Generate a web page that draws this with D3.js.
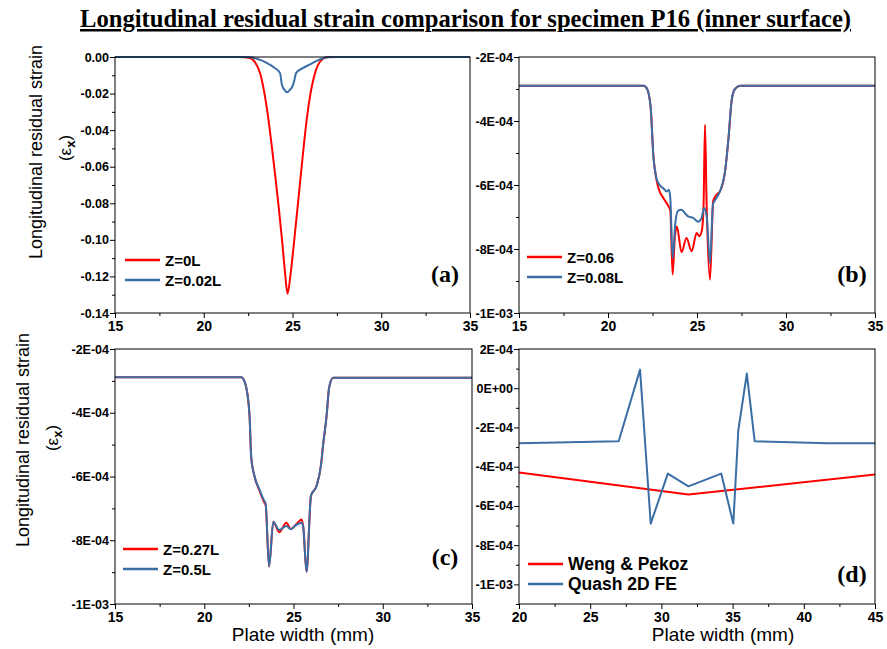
<!doctype html>
<html>
<head>
<script src="https://d3js.org/d3.v7.min.js"></script>
<style>
body { margin: 0; background: #fff; }
.tick text { font-family: "Liberation Sans", Arial, sans-serif; font-weight: bold; fill: #000; }
</style>
</head>
<body>
<svg width="887" height="649"></svg>
<script>
// ---- data ----
// panel (a)
var aZ0L = [[15,0],[22.0,0],[22.6,-0.0005],[22.9,-0.003],[23.17,-0.0088],[23.54,-0.027],[23.79,-0.0453],
  [24.01,-0.0635],[24.22,-0.0818],[24.41,-0.100],[24.58,-0.118],[24.72,-0.1295],[24.9,-0.118],[25.1,-0.100],
  [25.29,-0.0818],[25.48,-0.0635],[25.67,-0.0453],[25.9,-0.027],[26.27,-0.0088],[26.6,-0.002],[27.0,0],[35,0]];
var aZ002L = [[15,0],[22.5,0],[23.0,-0.001],[23.5,-0.003],[24.0,-0.006],[24.3,-0.0088],[24.4,-0.015],
  [24.55,-0.018],[24.7,-0.0193],[24.85,-0.018],[25.0,-0.016],[25.1,-0.013],[25.2,-0.0088],[25.5,-0.0065],
  [26.0,-0.004],[26.5,-0.0015],[27.0,-0.0002],[27.5,0],[35,0]];
// panel (b)
var bZ006 = [[15,-2.9e-4],[22.0,-2.9e-4],[22.2,-3.0e-4],[22.4,-3.6e-4],[22.55,-5.1e-4],[22.73,-5.85e-4],
  [22.9,-6.2e-4],[23.1,-6.4e-4],[23.38,-6.65e-4],[23.5,-6.8e-4],[23.63,-8.8e-4],[23.76,-7.6e-4],[23.87,-7.3e-4],
  [24.13,-8.1e-4],[24.41,-7.66e-4],[24.7,-8.07e-4],[24.98,-7.5e-4],[25.13,-7.6e-4],[25.28,-7.4e-4],[25.37,-6.6e-4],
  [25.45,-4.12e-4],[25.54,-6.6e-4],[25.73,-8.96e-4],[25.91,-6.5e-4],[26.1,-6.3e-4],[26.29,-6.2e-4],[26.57,-5.6e-4],
  [26.76,-4.6e-4],[26.95,-3.35e-4],[27.13,-3.0e-4],[27.42,-2.9e-4],[35,-2.9e-4]];
var bZ008L = [[15,-2.9e-4],[22.0,-2.9e-4],[22.2,-3.0e-4],[22.4,-3.6e-4],[22.55,-5.1e-4],[22.73,-5.8e-4],
  [22.9,-6.0e-4],[23.1,-6.1e-4],[23.3,-6.2e-4],[23.42,-6.15e-4],[23.5,-6.4e-4],[23.63,-8.3e-4],[23.78,-7.2e-4],
  [23.94,-6.8e-4],[24.13,-6.77e-4],[24.32,-6.88e-4],[24.5,-6.98e-4],[24.79,-7.03e-4],[25.07,-7.15e-4],
  [25.26,-7.03e-4],[25.4,-6.72e-4],[25.55,-7.0e-4],[25.73,-8.44e-4],[25.9,-6.6e-4],[26.1,-6.4e-4],[26.29,-6.2e-4],
  [26.57,-5.6e-4],[26.76,-4.6e-4],[26.95,-3.35e-4],[27.13,-3.0e-4],[27.42,-2.9e-4],[35,-2.9e-4]];
// panel (c)
var cZ027L = [[15,-2.89e-4],[22.07,-2.89e-4],[22.2,-2.95e-4],[22.35,-3.2e-4],[22.54,-4.12e-4],[22.63,-5.38e-4],
  [22.82,-6.0e-4],[23.1,-6.45e-4],[23.33,-6.78e-4],[23.44,-6.9e-4],[23.63,-8.82e-4],[23.87,-7.42e-4],[24.2,-7.75e-4],
  [24.6,-7.45e-4],[24.85,-7.65e-4],[25.15,-7.5e-4],[25.46,-7.35e-4],[25.55,-7.6e-4],[25.73,-8.99e-4],
  [25.98,-6.6e-4],[26.29,-6.3e-4],[26.55,-5.6e-4],[26.66,-5.0e-4],[26.85,-4.12e-4],[27.0,-3.2e-4],
  [27.22,-2.9e-4],[35,-2.9e-4]];
var cZ05L = [[15,-2.89e-4],[22.07,-2.89e-4],[22.2,-2.95e-4],[22.35,-3.2e-4],[22.54,-4.12e-4],[22.63,-5.38e-4],
  [22.82,-6.0e-4],[23.1,-6.42e-4],[23.33,-6.73e-4],[23.44,-6.85e-4],[23.63,-8.82e-4],[23.87,-7.42e-4],[24.2,-7.68e-4],
  [24.6,-7.55e-4],[24.85,-7.65e-4],[25.15,-7.52e-4],[25.46,-7.45e-4],[25.55,-7.6e-4],[25.73,-8.99e-4],
  [25.98,-6.6e-4],[26.29,-6.3e-4],[26.55,-5.6e-4],[26.66,-5.0e-4],[26.85,-4.12e-4],[27.0,-3.2e-4],
  [27.22,-2.9e-4],[35,-2.9e-4]];
// panel (d)
var dWeng = [[20,-4.3e-4],[31.9,-5.42e-4],[45,-4.4e-4]];
var dQuash = [[20,-2.8e-4],[27.0,-2.7e-4],[28.5,0.95e-4],[29.25,-6.9e-4],[30.45,-4.35e-4],[31.9,-5.0e-4],
  [34.2,-4.35e-4],[35.05,-6.9e-4],[35.4,-2.15e-4],[36.0,0.75e-4],[36.55,-2.7e-4],[41.7,-2.8e-4],[45,-2.8e-4]];

// ticks
var xTicks1 = [15, 20, 25, 30, 35];
var xTicks2 = [20, 25, 30, 35, 40, 45];
var yTicksA = [0, -0.02, -0.04, -0.06, -0.08, -0.10, -0.12, -0.14];
var yLabelsA = ["0.00", "-0.02", "-0.04", "-0.06", "-0.08", "-0.10", "-0.12", "-0.14"];
var yTicksBC = [-2e-4, -4e-4, -6e-4, -8e-4, -1e-3];
var yLabelsBC = ["-2E-04", "-4E-04", "-6E-04", "-8E-04", "-1E-03"];
var yTicksD = [2e-4, 0, -2e-4, -4e-4, -6e-4, -8e-4, -1e-3];
var yLabelsD = ["2E-04", "0E+00", "-2E-04", "-4E-04", "-6E-04", "-8E-04", "-1E-03"];

var RED = "#ff0000", BLUE = "#3a6ea5";

var panels = [
  {box: [115, 57, 470, 313], xd: [15, 35], yd: [-0.14, 0], xt: xTicks1, yt: yTicksA, yl: yLabelsA,
   series: [[aZ0L, RED, "Z=0L"], [aZ002L, BLUE, "Z=0.02L"]], smooth: true, tag: "(a)",
   leg: [125, 260], tagPos: [445, 282], legFont: 15},
  {box: [519, 57, 875, 313], xd: [15, 35], yd: [-1e-3, -2e-4], xt: xTicks1, yt: yTicksBC, yl: yLabelsBC,
   series: [[bZ006, RED, "Z=0.06"], [bZ008L, BLUE, "Z=0.08L"]], smooth: true, tag: "(b)",
   leg: [527, 257], tagPos: [852, 282], legFont: 15},
  {box: [115, 349, 472, 604], xd: [15, 35], yd: [-1e-3, -2e-4], xt: xTicks1, yt: yTicksBC, yl: yLabelsBC,
   series: [[cZ027L, RED, "Z=0.27L"], [cZ05L, BLUE, "Z=0.5L"]], smooth: true, tag: "(c)",
   leg: [123, 549], tagPos: [445, 565], legFont: 15},
  {box: [519, 349, 875, 604], xd: [20, 45], yd: [-1.1e-3, 2e-4], xt: xTicks2, yt: yTicksD, yl: yLabelsD,
   series: [[dWeng, RED, "Weng & Pekoz"], [dQuash, BLUE, "Quash 2D FE"]], smooth: false, tag: "(d)",
   leg: [528, 564], tagPos: [852, 582], legFont: 17.5}
];

var svg = d3.select("svg");

function mids(arr) {
  var out = [];
  for (var i = 0; i < arr.length - 1; i++) out.push((arr[i] + arr[i + 1]) / 2);
  return out;
}

panels.forEach(function (p) {
  var x = d3.scaleLinear().domain(p.xd).range([p.box[0], p.box[2]]);
  var y = d3.scaleLinear().domain(p.yd).range([p.box[3], p.box[1]]);
  var g = svg.append("g");

  // minor ticks
  var xMinor = mids(p.xt);
  var yMinor = mids(p.yt);
  if (p.yd[0] < d3.min(p.yt)) yMinor.push(d3.min(p.yt) - (p.yt[0] - p.yt[1]) / 2);
  g.append("g").attr("transform", "translate(0," + p.box[3] + ")")
    .call(d3.axisBottom(x).tickValues(xMinor).tickSize(3).tickSizeOuter(0).tickFormat(""))
    .call(function (s) { s.select(".domain").remove(); });
  g.append("g").attr("transform", "translate(" + p.box[0] + ",0)")
    .call(d3.axisLeft(y).tickValues(yMinor).tickSize(3).tickSizeOuter(0).tickFormat(""))
    .call(function (s) { s.select(".domain").remove(); });

  // major ticks
  g.append("g").attr("transform", "translate(0," + p.box[3] + ")")
    .call(d3.axisBottom(x).tickValues(p.xt).tickSize(5).tickSizeOuter(0).tickPadding(3).tickFormat(d3.format("d")))
    .call(function (s) {
      s.select(".domain").remove();
      s.selectAll("text").style("font-size", "14px");
    });
  g.append("g").attr("transform", "translate(" + p.box[0] + ",0)")
    .call(d3.axisLeft(y).tickValues(p.yt).tickSize(5).tickSizeOuter(0).tickPadding(1)
      .tickFormat(function (d, i) { return p.yl[i]; }))
    .call(function (s) {
      s.select(".domain").remove();
      s.selectAll("text").style("font-size", "12.5px");
    });

  // lines
  var line = d3.line()
    .x(function (d) { return x(d[0]); })
    .y(function (d) { return y(d[1]); })
    .curve(p.smooth ? d3.curveMonotoneX : d3.curveLinear);
  p.series.forEach(function (s) {
    g.append("path").datum(s[0])
      .attr("d", line)
      .attr("fill", "none")
      .attr("stroke", s[1])
      .attr("stroke-width", 2)
      .attr("stroke-linejoin", "round");
  });

  // frame
  g.append("rect")
    .attr("x", p.box[0]).attr("y", p.box[1])
    .attr("width", p.box[2] - p.box[0]).attr("height", p.box[3] - p.box[1])
    .attr("fill", "none").attr("stroke", "#000").attr("stroke-width", 1);

  // legend
  p.series.forEach(function (s, i) {
    var ly = p.leg[1] + i * 20;
    g.append("line")
      .attr("x1", p.leg[0]).attr("x2", p.leg[0] + 35)
      .attr("y1", ly).attr("y2", ly)
      .attr("stroke", s[1]).attr("stroke-width", 2.5);
    g.append("text")
      .attr("x", p.leg[0] + 40).attr("y", ly + 5.5)
      .style("font-family", "Liberation Sans, Arial, sans-serif")
      .style("font-weight", "bold")
      .style("font-size", p.legFont + "px")
      .text(s[2]);
  });

  // panel tag
  g.append("text")
    .attr("x", p.tagPos[0]).attr("y", p.tagPos[1])
    .attr("text-anchor", "middle")
    .style("font-family", "Liberation Serif, Times New Roman, serif")
    .style("font-weight", "bold")
    .style("font-size", "24px")
    .text(p.tag);
});

// title
svg.append("text")
  .attr("x", 80).attr("y", 27)
  .attr("textLength", 771).attr("lengthAdjust", "spacingAndGlyphs")
  .style("font-family", "Liberation Serif, Times New Roman, serif")
  .style("font-weight", "bold")
  .style("font-size", "25px")
  .style("text-decoration", "underline")
  .text("Longitudinal residual strain comparison for specimen P16 (inner surface)");

// y axis titles: [x of main line, centre y, x of (eps_x) line, centre y]
[[42, 152, 71, 148], [29, 440, 58, 438]].forEach(function (a) {
  svg.append("text")
    .attr("transform", "translate(" + a[0] + "," + a[1] + ")rotate(-90)")
    .attr("text-anchor", "middle")
    .style("font-family", "Liberation Sans, Arial, sans-serif")
    .style("font-size", "18px")
    .text("Longitudinal residual strain");
  var t = svg.append("text")
    .attr("transform", "translate(" + a[2] + "," + a[3] + ")rotate(-90)")
    .attr("text-anchor", "middle")
    .style("font-family", "Liberation Sans, Arial, sans-serif")
    .style("font-size", "17px");
  t.append("tspan").text("(ε");
  t.append("tspan").attr("dy", 4).style("font-size", "13px").style("font-weight", "bold").text("x");
  t.append("tspan").attr("dy", -4).text(")");
});

// x axis titles
[303, 723].forEach(function (cx) {
  svg.append("text")
    .attr("x", cx).attr("y", 641)
    .attr("text-anchor", "middle")
    .style("font-family", "Liberation Sans, Arial, sans-serif")
    .style("font-size", "19px")
    .text("Plate width (mm)");
});
</script>
</body>
</html>
